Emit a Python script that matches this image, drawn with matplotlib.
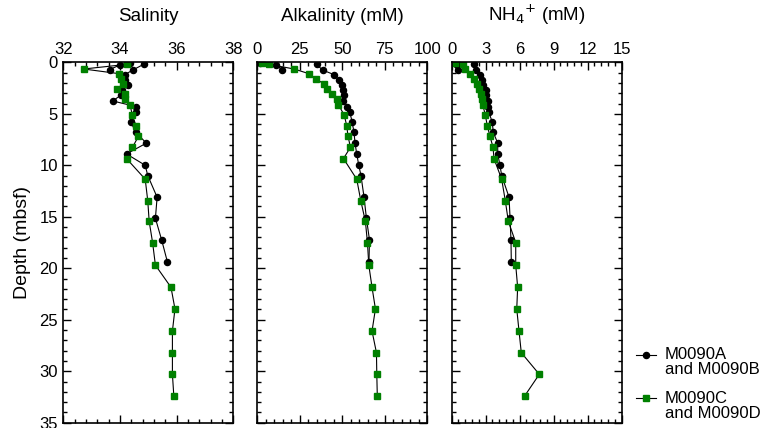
import matplotlib.pyplot as plt
from matplotlib.lines import Line2D
from matplotlib.ticker import MultipleLocator

plt.rcParams["font.family"] = ["Liberation Sans", "DejaVu Sans"]

# Holes M0090A/B (black circles): short mudline core B plus the main core A
depth_b = [0.05, 0.25, 0.7]
depth_a = [0.2, 0.75, 1.2, 1.7, 2.2, 2.7, 3.2, 3.75, 4.3, 4.8, 5.8, 6.8,
           7.85, 8.9, 10.0, 11.0, 13.1, 15.15, 17.25, 19.35]
sal_b = [34.36, 34.0, 33.64]
sal_a = [34.83, 34.45, 34.17, 34.17, 34.28, 34.07, 34.03, 33.74, 34.56, 34.56,
         34.38, 34.56, 34.93, 34.23, 34.89, 34.98, 35.31, 35.25, 35.47, 35.67]
alk_b = [1.6, 10.8, 14.7]
alk_a = [34.9, 38.4, 45.2, 47.8, 49.9, 50.5, 51.1, 50.7, 53.0, 54.4,
         55.8, 56.9, 57.5, 58.5, 59.7, 61.0, 62.8, 64.2, 66.0, 65.7]
nh4_b = [0.35, 0.5, 0.6]
nh4_a = [2.0, 2.12, 2.5, 2.65, 2.79, 3.0, 3.05, 3.18, 3.23, 3.26,
         3.58, 3.67, 4.06, 4.06, 4.26, 4.41, 5.06, 5.15, 5.23, 5.26]

# Holes M0090C/D (green squares)
depth_c = [0.05, 0.2, 0.65, 1.1, 1.6, 2.1, 2.6, 3.1, 3.6, 4.1, 5.15, 6.15, 7.2,
           8.25, 9.35, 11.35, 13.45, 15.45, 17.5, 19.7, 21.85, 23.95, 26.1,
           28.2, 30.3, 32.4]
sal_c = [34.23, 34.23, 32.72, 33.96, 34.05, 34.09, 33.91, 34.18, 34.18, 34.35,
         34.44, 34.56, 34.65, 34.44, 34.23, 34.89, 34.98, 35.03, 35.15, 35.25,
         35.8, 35.94, 35.85, 35.85, 35.85, 35.9]
alk_c = [2.9, 7.0, 21.7, 30.3, 34.6, 39.1, 41.1, 44.0, 46.9, 47.7, 51.2, 52.6,
         53.4, 54.8, 50.7, 58.5, 60.9, 63.6, 64.8, 65.6, 67.5, 69.5, 67.5,
         70.1, 70.3, 70.6]
nh4_c = [0.3, 1.0, 1.2, 1.6, 1.97, 2.2, 2.41, 2.56, 2.7, 2.74, 2.97, 3.14,
         3.38, 3.65, 3.73, 4.41, 4.73, 5.0, 5.65, 5.65, 5.82, 5.74, 5.94,
         6.14, 7.73, 6.44]

panels = [
    ("Salinity", (32, 38), 2, 0.4, (sal_b, sal_a), sal_c),
    ("Alkalinity (mM)", (0, 100), 25, 5, (alk_b, alk_a), alk_c),
    ("NH$_4$$^{+}$ (mM)", (0, 15), 3, 0.6, (nh4_b, nh4_a), nh4_c),
]
lefts = [0.083, 0.3372, 0.592]

GREEN = "#008000"
black_style = dict(color="black", lw=0.8, marker="o", ms=4.4,
                   mfc="black", mec="black")
green_style = dict(color="black", lw=0.8, marker="s", ms=4.2,
                   mfc=GREEN, mec=GREEN)

fig = plt.figure(figsize=(7.63, 4.28), dpi=100)

for i, (title, xlim, major, minor, black_vals, green_vals) in enumerate(panels):
    ax = fig.add_axes([lefts[i], 0.0124, 0.2228, 0.842])
    ax.plot(black_vals[0], depth_b, **black_style)
    ax.plot(black_vals[1], depth_a, **black_style)
    ax.plot(green_vals, depth_c, **green_style)

    ax.set_xlim(*xlim)
    ax.set_ylim(35, 0)
    ax.xaxis.set_major_locator(MultipleLocator(major))
    ax.xaxis.set_minor_locator(MultipleLocator(minor))
    ax.yaxis.set_major_locator(MultipleLocator(5))
    ax.yaxis.set_minor_locator(MultipleLocator(1))
    ax.tick_params(which="both", direction="in", top=True, bottom=True,
                   left=True, right=True, labeltop=True, labelbottom=False,
                   labelleft=(i == 0), labelsize=12, width=1.0, pad=4)
    ax.tick_params(which="major", length=6)
    ax.tick_params(which="minor", length=3.2)
    for s in ax.spines.values():
        s.set_linewidth(1.2)
    ax.set_title(title, fontsize=13.5, pad=30)
    if i == 0:
        ax.set_ylabel("Depth (mbsf)", fontsize=14, labelpad=6)

# legend drawn by hand so the symbol lines up with the first text line
legend_items = [
    (0.1706, ["M0090A", "and M0090B"], "o", "black"),
    (0.0700, ["M0090C", "and M0090D"], "s", GREEN),
]
for y, lines, marker, mcol in legend_items:
    fig.add_artist(Line2D([0.834, 0.860], [y, y], color="black", lw=0.8,
                          transform=fig.transFigure))
    fig.add_artist(Line2D([0.847], [y], marker=marker, ms=4.4, mfc=mcol,
                          mec=mcol, transform=fig.transFigure))
    fig.text(0.871, y, lines[0], fontsize=12, va="center", ha="left")
    fig.text(0.871, y - 0.035, lines[1], fontsize=12, va="center", ha="left")

fig.savefig("out.png", dpi=100)
